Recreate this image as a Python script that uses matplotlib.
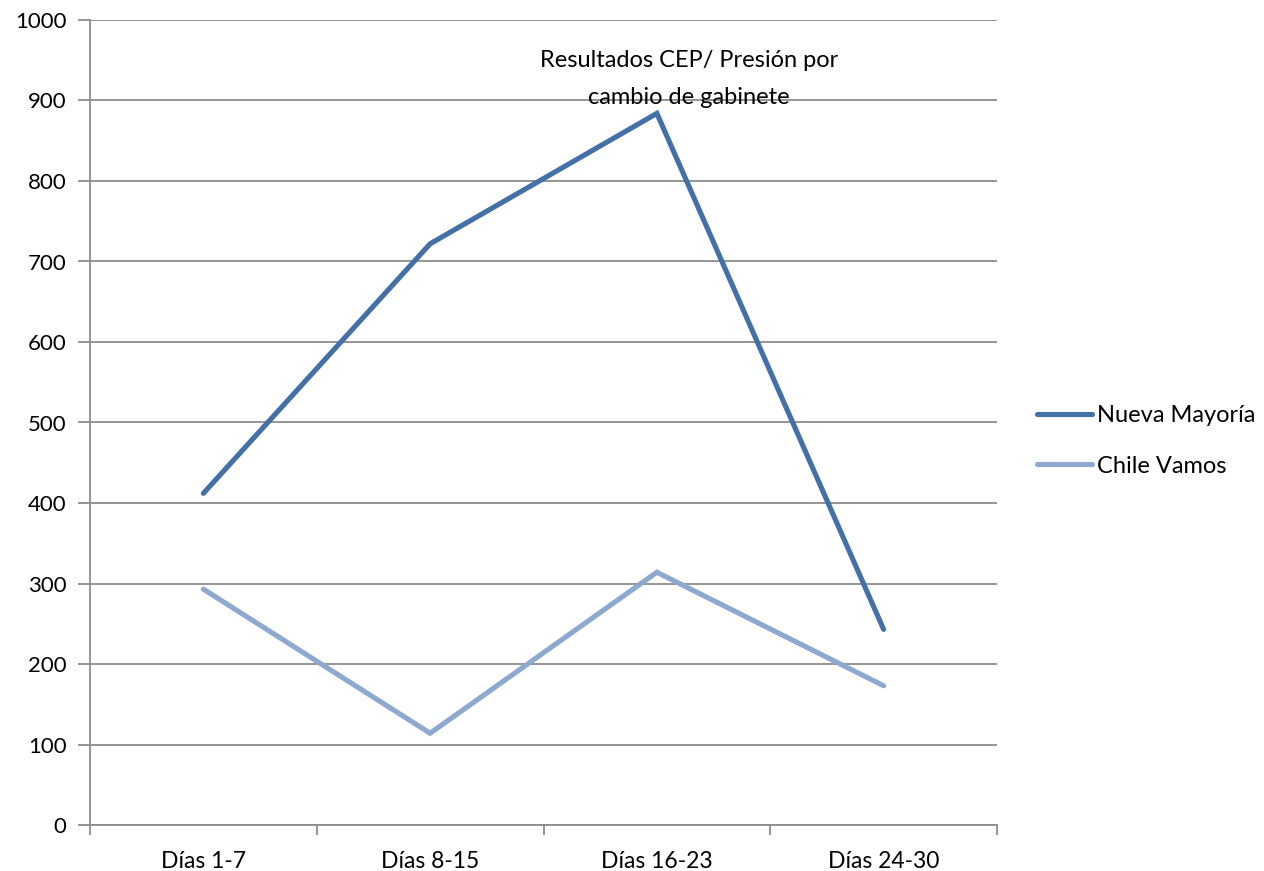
import matplotlib
matplotlib.use("Agg")
import matplotlib.pyplot as plt

categories = ["Días 1-7", "Días 8-15", "Días 16-23", "Días 24-30"]
nueva_mayoria = [412, 722, 884, 243]
chile_vamos = [293, 114, 314, 173]
y_ticks = [0, 100, 200, 300, 400, 500, 600, 700, 800, 900, 1000]
title_text = "Resultados CEP/ Presión por\ncambio de gabinete"

plt.rcParams['font.family'] = ['Lato', 'DejaVu Sans']
W, H = 1264, 871
fig = plt.figure(figsize=(W/100, H/100), dpi=100)
ax = fig.add_axes([90/W, (H-825)/H, (997-90)/W, (825-20)/H])

x = list(range(len(categories)))
ax.plot(x, nueva_mayoria, color="#4470A8", lw=3.7, solid_capstyle='round', solid_joinstyle='miter', label="Nueva Mayoría", zorder=3)
ax.plot(x, chile_vamos, color="#8EA9D0", lw=3.7, solid_capstyle='round', solid_joinstyle='miter', label="Chile Vamos", zorder=3)

ax.set_xlim(-0.5, len(categories) - 0.5)
ax.set_ylim(0, 1000)
ax.set_yticks(y_ticks)
ax.set_yticklabels([str(v) for v in y_ticks], fontsize=16)
ax.grid(axis='y', color="#8C8C8C", lw=1.3, zorder=1)
ax.set_axisbelow(True)

ax.set_xticks(x)
ax.set_xticklabels(categories, fontsize=16.5)
ax.tick_params(axis='x', length=0, pad=19)
ax.set_xticks([i - 0.5 for i in range(len(categories) + 1)], minor=True)
ax.tick_params(axis='x', which='minor', length=7, width=1.3, color="#8C8C8C", direction='out')
ax.tick_params(axis='y', length=9, width=1.3, color="#8C8C8C", direction='out', pad=8)

for s in ['top', 'right']:
    ax.spines[s].set_visible(False)
for s in ['left', 'bottom']:
    ax.spines[s].set_color("#8C8C8C")
    ax.spines[s].set_linewidth(1.3)

fig.text(689/W, 1 - 79/H, title_text, ha='center', va='center', fontsize=17, linespacing=1.9)

leg = fig.legend(loc='center left', bbox_to_anchor=(1025/W, 1 - 441/H), frameon=False,
                 fontsize=17, handlelength=2.35, handletextpad=0.2, labelspacing=1.25, borderpad=0)

fig.savefig("out.png", dpi=100)
